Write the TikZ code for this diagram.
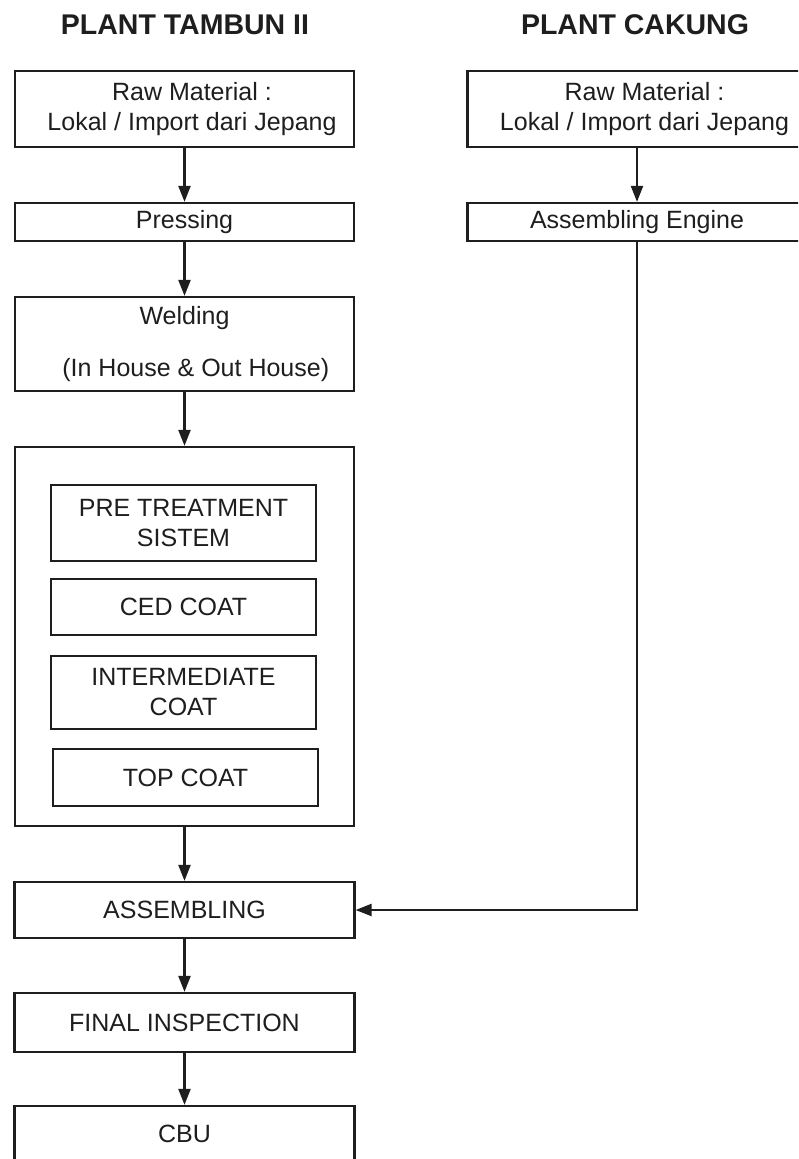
\documentclass[tikz,border=0pt]{standalone}
\usepackage{fontspec}
\setmainfont{Liberation Sans}
\usetikzlibrary{arrows.meta}
\definecolor{ink}{HTML}{1E1E1E}
\tikzset{
  box/.style={draw=ink, line width=2.2pt, rectangle, inner sep=0pt, align=center,
    text=ink, font=\fontsize{25pt}{30pt}\selectfont},
  title/.style={text=ink, font=\fontsize{28.5pt}{32pt}\selectfont\bfseries, inner sep=0pt},
  arr/.style={draw=ink, line width=2.2pt, -{Triangle[length=16pt,width=12pt]}},
}
\begin{document}
\begin{tikzpicture}[x=1pt, y=-1pt]
\useasboundingbox (0,0) rectangle (798,1159);
\clip (0,0) rectangle (798,1159);
\fill[white] (0,0) rectangle (798,1159);

% column headings
\node[title] (hleft) at (185,25) {PLANT TAMBUN II};
\node[title] (hright) at (635,25) {PLANT CAKUNG};

% Plant Tambun II flow
\node[box, minimum width=339pt, minimum height=76pt] (raw1) at (184.5,109)
  {\hspace*{0.6em}Raw Material :\\\hspace*{0.6em}Lokal / Import dari Jepang};
\node[box, minimum width=339pt, minimum height=38pt] (press) at (184.5,222) {Pressing};
\node[box, minimum width=339pt, minimum height=94pt] (weld) at (184.5,344)
  {Welding\\[22pt]\hspace*{0.9em}(In House \& Out House)};
\node[box, minimum width=339pt, minimum height=379pt] (paint) at (184.5,636.5) {};
\node[box, minimum width=265pt, minimum height=76pt] (pre) at (183.5,523) {PRE TREATMENT\\SISTEM};
\node[box, minimum width=265pt, minimum height=56pt] (ced) at (183.5,607) {CED COAT};
\node[box, minimum width=265pt, minimum height=73pt] (inter) at (183.5,692.5) {INTERMEDIATE\\COAT};
\node[box, minimum width=265pt, minimum height=57pt] (top) at (185.5,777.5) {TOP COAT};
\node[box, minimum width=340pt, minimum height=56pt] (asm) at (184.5,910) {ASSEMBLING};
\node[box, minimum width=340pt, minimum height=59pt] (fin) at (184.5,1022.5) {FINAL INSPECTION};
\node[box, minimum width=340pt, minimum height=56pt] (cbu) at (184.5,1134) {CBU};

% Plant Cakung flow
\node[box, minimum width=339pt, minimum height=76pt] (raw2) at (637,109)
  {\hspace*{0.6em}Raw Material :\\\hspace*{0.6em}Lokal / Import dari Jepang};
\node[box, minimum width=339pt, minimum height=38pt] (eng) at (637,222) {Assembling Engine};
\coordinate (bend) at (eng.south |- asm.east);

% connectors
\draw[arr] (raw1) -- (press);
\draw[arr] (press) -- (weld);
\draw[arr] (weld) -- (paint);
\draw[arr] (paint) -- (asm);
\draw[arr] (asm) -- (fin);
\draw[arr] (fin) -- (cbu);
\draw[arr] (raw2) -- (eng);
\draw[arr] (eng.south) -- (bend) -- (asm.east);
\end{tikzpicture}
\end{document}
